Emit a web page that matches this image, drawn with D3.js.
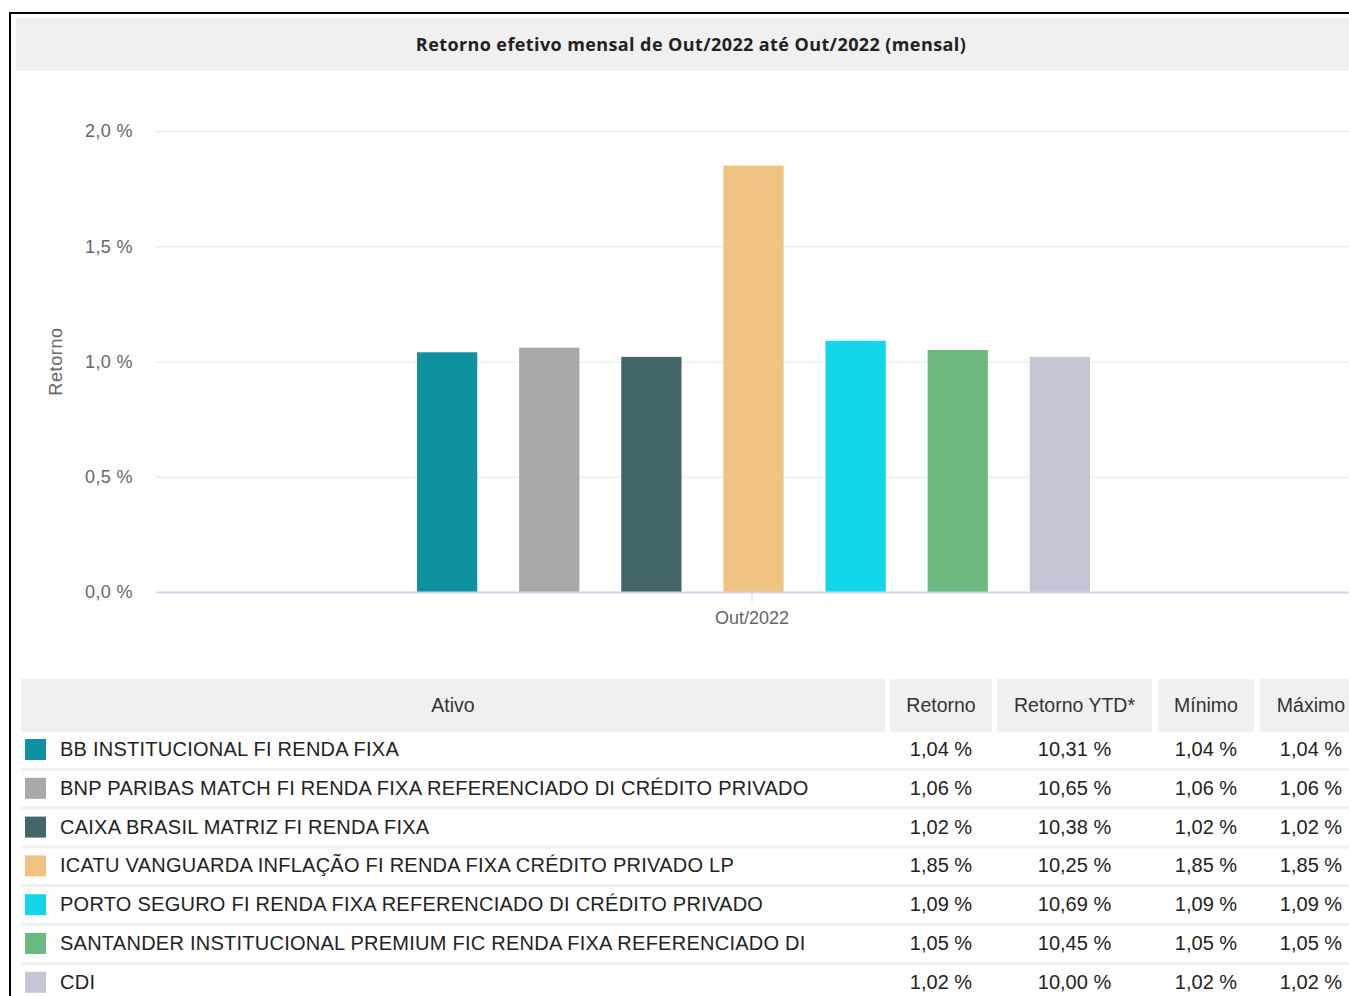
<!DOCTYPE html>
<html>
<head>
<meta charset="utf-8">
<title>Retorno efetivo mensal</title>
<script src="https://d3js.org/d3.v7.min.js"></script>
<style>
	body {
		margin: 0;
		font-family: "Liberation Sans", Arial, sans-serif;
		background: #fff;
		overflow: hidden;
	}
	.grid line {
		stroke: #e6e6e6;
		stroke-width: 1px;
	}
</style>
</head>
<body>
<script>
	var categories = ["Out/2022"];
	var names = [
		"BB INSTITUCIONAL FI RENDA FIXA",
		"BNP PARIBAS MATCH FI RENDA FIXA REFERENCIADO DI CRÉDITO PRIVADO",
		"CAIXA BRASIL MATRIZ FI RENDA FIXA",
		"ICATU VANGUARDA INFLAÇÃO FI RENDA FIXA CRÉDITO PRIVADO LP",
		"PORTO SEGURO FI RENDA FIXA REFERENCIADO DI CRÉDITO PRIVADO",
		"SANTANDER INSTITUCIONAL PREMIUM FIC RENDA FIXA REFERENCIADO DI",
		"CDI"
	];
	var colors = ["#0e929f", "#a9a9a9", "#436669", "#f0c382", "#14d6ea", "#6cb97f", "#c4c6d6"];
	var retorno = [1.04, 1.06, 1.02, 1.85, 1.09, 1.05, 1.02];
	var retornoYTD = [10.31, 10.65, 10.38, 10.25, 10.69, 10.45, 10.00];
	var minimo = [1.04, 1.06, 1.02, 1.85, 1.09, 1.05, 1.02];
	var maximo = [1.04, 1.06, 1.02, 1.85, 1.09, 1.05, 1.02];
	var yTicks = [0, 0.5, 1.0, 1.5, 2.0];
	var columns = ["Ativo", "Retorno", "Retorno YTD*", "Mínimo", "Máximo"];

	var width = 1349, height = 996;
	var fmt1 = function(v) { return d3.format(".1f")(v).replace(".", ",") + " %"; };
	var fmt2 = function(v) { return d3.format(".2f")(v).replace(".", ",") + " %"; };

	var svg = d3.select("body").append("svg")
			.attr("width", width)
			.attr("height", height)
			.style("display", "block");

	// outer frame
	svg.append("rect")
			.attr("x", 10).attr("y", 13)
			.attr("width", width + 20).attr("height", height + 20)
			.attr("fill", "#fff")
			.attr("stroke", "#000")
			.attr("stroke-width", 2);

	// title bar
	svg.append("rect")
			.attr("x", 16).attr("y", 18)
			.attr("width", width - 16).attr("height", 53)
			.attr("fill", "#f0f0f0");
	svg.append("text")
			.attr("x", 691).attr("y", 45)
			.attr("dy", "0.35em")
			.attr("text-anchor", "middle")
			.style("font-family", "'Open Sans', sans-serif")
			.style("font-weight", 700)
			.style("font-size", "18px")
			.style("letter-spacing", "0.4px")
			.style("fill", "#222")
			.text("Retorno efetivo mensal de Out/2022 até Out/2022 (mensal)");

	////////////////////////////////////////////////////////////
	// Chart
	var plot = { left: 156, right: 1348, top: 131, bottom: 592 };

	var y = d3.scaleLinear()
			.domain([0, 2])
			.range([plot.bottom, plot.top]);

	var x0 = d3.scaleBand()
			.domain(categories)
			.range([plot.left, plot.right]);

	var x1 = d3.scaleBand()
			.domain(d3.range(names.length))
			.range([417, 1090])
			.paddingInner(0.41)
			.paddingOuter(0);

	svg.append("g")
			.attr("class", "grid")
			.attr("transform", "translate(" + plot.left + ",0)")
			.call(d3.axisLeft(y).tickValues(yTicks).tickSize(-(plot.right - plot.left)).tickFormat(""))
			.call(function(g) { g.select(".domain").remove(); })
			.call(function(g) { g.selectAll(".tick").filter(function(d) { return d === 0; }).remove(); });

	svg.append("g")
			.attr("transform", "translate(133,0)")
			.call(d3.axisLeft(y).tickValues(yTicks).tickSize(0).tickPadding(0).tickFormat(fmt1))
			.call(function(g) { g.select(".domain").remove(); })
			.selectAll("text")
			.style("font-family", "'Liberation Sans', Arial, sans-serif")
			.style("font-size", "18px")
			.style("letter-spacing", "0.4px")
			.style("fill", "#666");

	svg.append("text")
			.attr("transform", "translate(56," + ((plot.top + plot.bottom) / 2) + ") rotate(-90)")
			.attr("text-anchor", "middle")
			.attr("dy", "0.35em")
			.style("font-size", "18px")
			.style("letter-spacing", "0.6px")
			.style("fill", "#666")
			.text("Retorno");

	svg.selectAll("rect.bar")
			.data(retorno)
		.enter().append("rect")
			.attr("class", "bar")
			.attr("x", function(d, i) { return x1(i); })
			.attr("width", x1.bandwidth())
			.attr("y", function(d) { return y(d); })
			.attr("height", function(d) { return y(0) - y(d); })
			.attr("fill", function(d, i) { return colors[i]; });

	var xAxis = svg.append("g")
			.attr("transform", "translate(0," + plot.bottom + ")")
			.call(d3.axisBottom(x0).tickSizeInner(10).tickSizeOuter(0).tickPadding(9));
	xAxis.select(".domain").attr("stroke", "#ccd6eb").attr("stroke-width", 2);
	xAxis.selectAll(".tick line").attr("stroke", "#ccd6eb");
	xAxis.selectAll(".tick text")
			.style("font-size", "18px")
			.style("letter-spacing", "0px")
			.style("fill", "#666");

	////////////////////////////////////////////////////////////
	// Table
	var colX = [21, 890, 997, 1158, 1260];
	var colW = [864, 102, 155, 96, 102];
	var headTop = 679, headH = 53, rowH = 38.8, firstRowMid = 749;

	svg.selectAll("rect.head")
			.data(columns)
		.enter().append("rect")
			.attr("class", "head")
			.attr("x", function(d, i) { return colX[i]; })
			.attr("y", headTop)
			.attr("width", function(d, i) { return colW[i]; })
			.attr("height", headH)
			.attr("fill", "#f0f0f0");

	svg.selectAll("text.head")
			.data(columns)
		.enter().append("text")
			.attr("class", "head")
			.attr("x", function(d, i) { return colX[i] + colW[i] / 2; })
			.attr("y", headTop + headH / 2)
			.attr("dy", "0.35em")
			.attr("text-anchor", "middle")
			.style("font-size", "19.5px")
			.style("fill", "#333")
			.text(function(d) { return d; });

	// row separators
	svg.selectAll("line.sep")
			.data(d3.range(names.length - 1))
		.enter().append("line")
			.attr("class", "sep")
			.attr("x1", 21).attr("x2", width)
			.attr("y1", function(d) { return firstRowMid + rowH * d + rowH / 2 + 1; })
			.attr("y2", function(d) { return firstRowMid + rowH * d + rowH / 2 + 1; })
			.attr("stroke", "#f0f0f0")
			.attr("stroke-width", 3);

	var rows = svg.selectAll("g.row")
			.data(names)
		.enter().append("g")
			.attr("class", "row")
			.attr("transform", function(d, i) { return "translate(0," + (firstRowMid + rowH * i) + ")"; });

	rows.append("rect")
			.attr("x", 25).attr("y", -10)
			.attr("width", 21).attr("height", 21)
			.attr("fill", function(d, i) { return colors[i]; });

	rows.append("text")
			.attr("x", 60)
			.attr("dy", "0.35em")
			.style("font-size", "20px")
			.style("letter-spacing", "0.25px")
			.style("fill", "#222")
			.text(function(d) { return d; });

	var cols = [retorno, retornoYTD, minimo, maximo];
	cols.forEach(function(values, c) {
		rows.append("text")
				.attr("x", colX[c + 1] + colW[c + 1] / 2)
				.attr("dy", "0.35em")
				.attr("text-anchor", "middle")
				.style("font-size", "20px")
				.style("fill", "#222")
				.text(function(d, i) { return fmt2(values[i]); });
	});
</script>
</body>
</html>
